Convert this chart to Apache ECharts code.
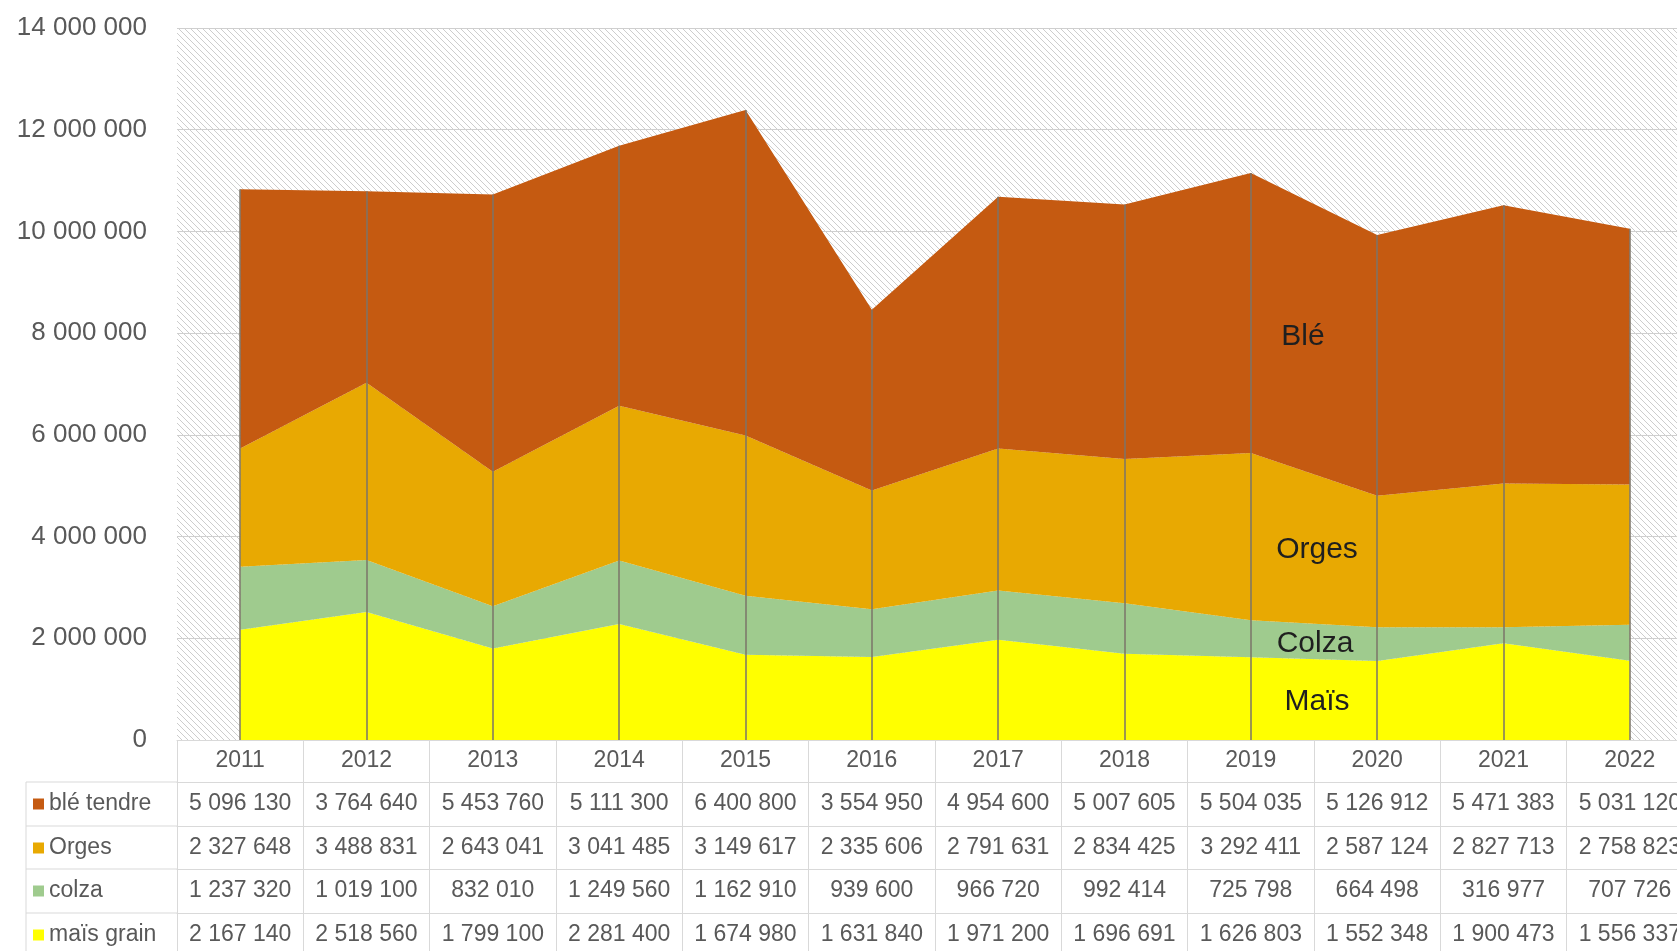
<!DOCTYPE html>
<html><head><meta charset="utf-8">
<script src="https://cdn.jsdelivr.net/npm/echarts@6/dist/echarts.min.js"></script>
<style>html,body{margin:0;padding:0;overflow:hidden;background:#fff}#c{width:1710px;height:951px}</style>
</head><body><div id="c"></div>
<script>
const years = ['2011','2012','2013','2014','2015','2016','2017','2018','2019','2020','2021','2022'];
const ble = [5096130,3764640,5453760,5111300,6400800,3554950,4954600,5007605,5504035,5126912,5471383,5031120];
const orges = [2327648,3488831,2643041,3041485,3149617,2335606,2791631,2834425,3292411,2587124,2827713,2758823];
const colza = [1237320,1019100,832010,1249560,1162910,939600,966720,992414,725798,664498,316977,707726];
const mais = [2167140,2518560,1799100,2281400,1674980,1631840,1971200,1696691,1626803,1552348,1900473,1556337];
const yTicks = [0,2000000,4000000,6000000,8000000,10000000,12000000,14000000];

const names = {ble:'blé tendre', orges:'Orges', colza:'colza', mais:'maïs grain'};
const colors = {ble:'#c55a11', orges:'#e8a902', colza:'#9fcb8e', mais:'#ffff00'};
const fmt = v => String(v).replace(/\B(?=(\d{3})+(?!\d))/g, ' ');
const totals = years.map((y,i)=>ble[i]+orges[i]+colza[i]+mais[i]);

// hatch pattern
const pc = document.createElement('canvas');
pc.width = 6; pc.height = 6;
const pctx = pc.getContext('2d');
pctx.fillStyle = '#ffffff'; pctx.fillRect(0,0,6,6);
pctx.strokeStyle = '#cdcdcd'; pctx.lineWidth = 1;
[-6,0,6].forEach(k=>{pctx.beginPath();pctx.moveTo(k-1,-1);pctx.lineTo(k+7,7);pctx.stroke();});

const FONT = 'Liberation Sans';
const GRID = {left:177, top:28, width:1516, height:712};
const ROW = [42, 86, 129, 173];
const rowData = [ble, orges, colza, mais];
const rowNames = [names.ble, names.orges, names.colza, names.mais];

const xAxes = [{
  type:'category', data: years, boundaryGap:true, gridIndex:0, position:'bottom',
  axisLine:{show:true, lineStyle:{color:'#d9d9d9', width:1}},
  axisTick:{show:true, interval:0, length:217, lineStyle:{color:'#d9d9d9', width:1}},
  axisLabel:{interval:0, margin:9, fontSize:23, lineHeight:24, color:'#595959', fontFamily:FONT}
}];
rowData.forEach((arr,k)=>{
  xAxes.push({
    type:'category', data: years, boundaryGap:true, gridIndex:0, position:'bottom', offset: ROW[k],
    axisLine:{show:true, lineStyle:{color:'#d9d9d9', width:1}},
    axisTick:{show:false}, splitLine:{show:false},
    axisLabel:{interval:0, margin:10, fontSize:23, lineHeight:24, color:'#595959', fontFamily:FONT,
      formatter:(v,i)=>fmt(arr[i])}
  });
});

const legends = rowNames.map((n,k)=>({
  orient:'vertical', left:33, top: 740 + ROW[k] + 10, padding:0,
  itemWidth:11, itemHeight:11, itemGap:0, icon:'rect', selectedMode:false,
  data:[n],
  textStyle:{fontSize:23, lineHeight:24, color:'#595959', fontFamily:FONT}
}));

const graphics = [];
[782, 826, 869, 913, 957].forEach(y=>{
  graphics.push({type:'line', shape:{x1:26,y1:y,x2:177,y2:y}, style:{stroke:'#d9d9d9', lineWidth:1}, z:10});
});
graphics.push({type:'line', shape:{x1:26,y1:782,x2:26,y2:957}, style:{stroke:'#d9d9d9', lineWidth:1}, z:10});
const ann = [['Blé',1303,337],['Orges',1317,550],['Colza',1315,644],['Maïs',1317,702]];
ann.forEach(a=>{
  graphics.push({type:'text', x:a[1], y:a[2], z:100, style:{text:a[0], fill:'#1f1f1f', font:'30px "'+FONT+'"', textAlign:'center', textVerticalAlign:'middle'}});
});

function areaSeries(key, arr, extra){
  return Object.assign({
    name: names[key], type:'line', stack:'total', data: arr, symbol:'none', showSymbol:false,
    lineStyle:{width:0}, areaStyle:{color:colors[key], opacity:1}, itemStyle:{color:colors[key]},
    silent:true, z:2
  }, extra||{});
}

const chart = echarts.init(document.getElementById('c'), null, {renderer:'canvas'});
chart.setOption({
  animation:false,
  textStyle:{fontFamily:FONT},
  grid: Object.assign({show:true, backgroundColor:{image:pc, repeat:'repeat'}, borderWidth:0}, GRID),
  legend: legends,
  xAxis: xAxes,
  yAxis:{
    type:'value', min:0, max:14000000, interval:2000000,
    axisLine:{show:false}, axisTick:{show:false},
    splitLine:{show:true, lineStyle:{color:'#cfcfcf', width:1}},
    axisLabel:{margin:30, fontSize:26, color:'#595959', fontFamily:FONT, formatter:v=>fmt(v)}
  },
  graphic: graphics,
  series:[
    areaSeries('mais', mais),
    areaSeries('colza', colza),
    areaSeries('orges', orges),
    areaSeries('ble', ble, {
      markLine:{
        silent:true, symbol:['none','none'], label:{show:false}, animation:false,
        lineStyle:{color:'#7b7468', width:1.5, type:'solid'},
        data: years.map((y,i)=>[{coord:[y,0]},{coord:[y,totals[i]]}])
      }
    })
  ]
});
</script></body></html>
